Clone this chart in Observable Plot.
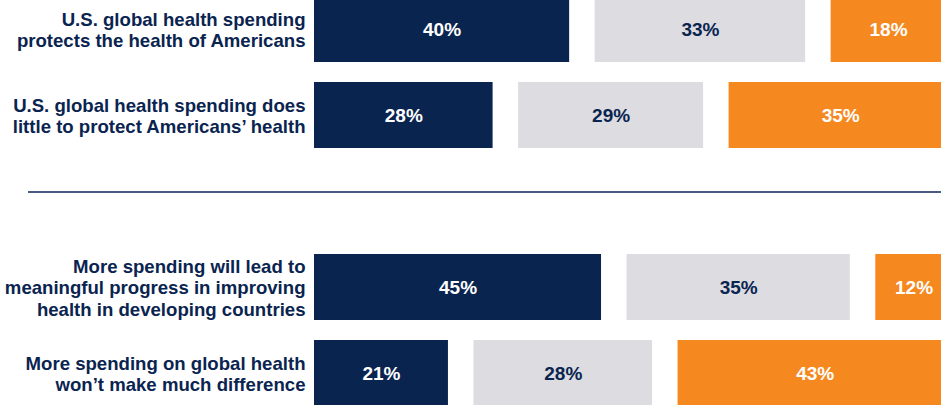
<!DOCTYPE html>
<html>
<head>
<meta charset="utf-8">
<script src="https://cdn.jsdelivr.net/npm/d3@7"></script>
<script src="https://cdn.jsdelivr.net/npm/@observablehq/plot@0.6"></script>
<style>
  html, body { margin: 0; padding: 0; background: #fff; }
  #chart { width: 941px; height: 405px; overflow: hidden; }
</style>
</head>
<body>
<div id="chart"></div>
<script>
const statements = [
  "U.S. global health spending\nprotects the health of Americans",
  "U.S. global health spending does\nlittle to protect Americans\u2019 health",
  "More spending will lead to\nmeaningful progress in improving\nhealth in developing countries",
  "More spending on global health\nwon\u2019t make much difference"
];
const favorable = [40, 28, 45, 21];
const neutral = [33, 29, 35, 28];
const unfavorable = [18, 35, 12, 43];
const seriesNames = ["favorable", "neutral", "unfavorable"];

const colors = { favorable: "#0a2450", neutral: "#dcdce1", unfavorable: "#f5881f" };
const labelColors = { favorable: "#ffffff", neutral: "#0a2450", unfavorable: "#ffffff" };
const gap = 4;
const spacer = " ";

const segments = [];
statements.forEach((s, i) => {
  const vals = [favorable[i], neutral[i], unfavorable[i]];
  let start = 0;
  vals.forEach((v, k) => {
    segments.push({ statement: s, series: seriesNames[k], value: v, x1: start, x2: start + v });
    start += v + gap;
  });
});

const yDomain = [statements[0], statements[1], spacer, statements[2], statements[3]];
const font = "'Liberation Sans', Arial, Helvetica, sans-serif";

const chart = Plot.plot({
  width: 941,
  height: 405,
  marginLeft: 314,
  marginRight: 0,
  marginTop: 0,
  marginBottom: 0,
  style: { fontFamily: font, background: "#fff" },
  x: { domain: [0, 98.3], axis: null },
  y: { domain: yDomain, range: [-14, 416], paddingInner: 0.23, paddingOuter: 0.115, axis: null },
  marks: [
    Plot.barX(segments, {
      y: "statement", x1: "x1", x2: "x2",
      fill: d => colors[d.series], clip: true
    }),
    Plot.text(segments, {
      y: "statement", x: d => (d.x1 + d.x2) / 2,
      text: d => d.value + "%",
      fill: d => labelColors[d.series],
      fontSize: 19, fontWeight: "bold", fontFamily: font
    }),
    Plot.text(statements, {
      y: d => d, text: d => d,
      frameAnchor: "left", textAnchor: "end", dx: -9,
      lineHeight: 1.17,
      fill: "#0a2450", fontSize: 18.6, fontWeight: "bold", fontFamily: font
    }),
    Plot.ruleY([spacer], {
      y: d => d, stroke: "#4a5a82", strokeWidth: 2, insetLeft: -286, dy: -9.5
    })
  ]
});
document.getElementById("chart").appendChild(chart);
</script>
</body>
</html>
